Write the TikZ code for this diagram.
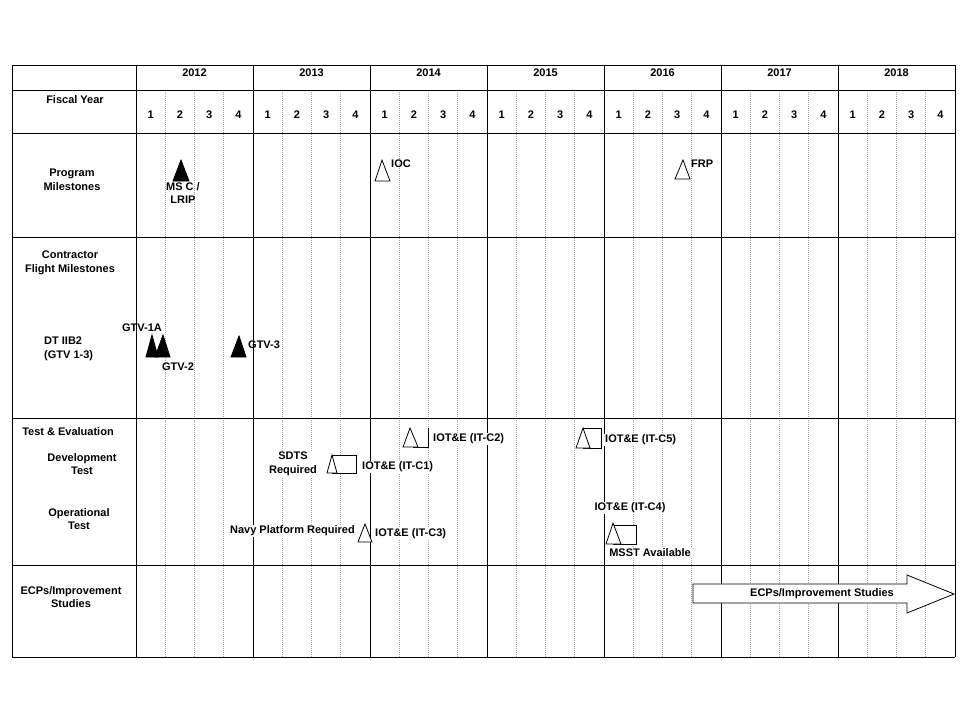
\documentclass[tikz,border=0pt]{standalone}
\usepackage{fontspec}
\setmainfont{Liberation Sans}
\begin{document}
\begin{tikzpicture}[
    x=1pt, y=-1pt,
    lbl/.style={font=\fontsize{11}{13.5}\selectfont\bfseries, align=center, inner sep=1pt},
    tag/.style={lbl, fill=white},
    rule/.style={line width=0.9pt},
    qline/.style={dash pattern=on 1pt off 1pt, gray!70, line width=0.6pt},
    openms/.style={draw, fill=white, line width=0.8pt},
    fullms/.style={draw, fill=black, line width=0.8pt},
    window/.style={draw, fill=white, line width=0.8pt}
]
    \useasboundingbox[fill=white] (0,0) rectangle (960,720);

    % Quarter lines
    \foreach \i in {0,...,6}
        \foreach \q in {1,2,3}
            \draw[qline] ({136+117*\i+29.25*\q},90) -- ({136+117*\i+29.25*\q},657);

    % Years and quarters
    \foreach \yr [count=\i from 0] in {2012,...,2018} {
        \draw[rule] ({136+117*\i},65) -- ({136+117*\i},657);
        \node[lbl] (y\yr) at ({194.5+117*\i},73) {\yr};
        \foreach \q in {1,...,4}
            \node[lbl] (q\yr-\q) at ({136+117*\i+29.25*\q-14.6},115) {\q};
    }

    % Rows
    \foreach \h in {65,90,133,237,418,565,657}
        \draw[rule] (12,\h) -- (955,\h);
    \draw[rule] (12,65) -- (12,657);
    \draw[rule] (955,65) -- (955,657);

    % Row labels
    \node[lbl] (fy) at (75,100) {Fiscal Year};
    \node[lbl] (prog) at (72,180) {Program\\Milestones};
    \node[lbl] (contr) at (70,263) {Contractor\\Flight Milestones};
    \node[lbl, align=left, anchor=west] (dt) at (43,349) {DT IIB2\\(GTV 1-3)};
    \node[lbl] (te) at (68,432) {Test \& Evaluation};
    \node[lbl] (devt) at (82,464) {Development\\Test};
    \node[lbl] (opt) at (79,519) {Operational\\Test};
    \node[lbl] (ecp) at (71,597) {ECPs/Improvement\\Studies};

    % Program milestones
    \draw[fullms] (173,181) -- (181,160) -- (189,181) -- cycle;
    \node[lbl] (msc) at (183,193) {MS C /\\LRIP};
    \draw[openms] (375,181) -- (382,160) -- (390,181) -- cycle;
    \node[lbl, anchor=west] (ioc) at (390,164) {IOC};
    \draw[openms] (675,179) -- (683,160) -- (690,179) -- cycle;
    \node[lbl, anchor=west] (frp) at (690,164) {FRP};

    % Flight milestones
    \draw[fullms] (146,357) -- (152,335) -- (158,357) -- cycle;
    \draw[fullms] (155,357) -- (163,335) -- (170,357) -- cycle;
    \node[lbl] (gtv1a) at (142,328) {GTV-1A};
    \node[lbl] (gtv2) at (178,367) {GTV-2};
    \draw[fullms] (231,357) -- (239,336) -- (246,357) -- cycle;
    \node[lbl, anchor=west] (gtv3) at (247,345) {GTV-3};

    % Test events
    \node[tag, anchor=west] (c2) at (432,439) {IOT\&E (IT-C2)};
    \node[tag] (sdts) at (293,464) {SDTS\\Required};
    \node[tag, anchor=west] (c1) at (361,467) {IOT\&E (IT-C1)};
    \node[tag, anchor=east] (navy) at (356,531) {Navy Platform Required};
    \node[tag, anchor=west] (c3) at (374,534) {IOT\&E (IT-C3)};
    \node[tag, anchor=west] (c5) at (604,440) {IOT\&E (IT-C5)};
    \node[tag] (c4) at (630,508) {IOT\&E (IT-C4)};
    \node[tag] (msst) at (650,553) {MSST Available};

    \draw[line width=0.8pt] (428,428) -- (428,447) -- (413,447);
    \draw[openms] (403,447) -- (410,428) -- (418,447) -- cycle;
    \draw[window] (332,455) rectangle (356,473);
    \draw[openms] (327,473) -- (332,455) -- (337,473) -- cycle;
    \draw[openms] (358,542) -- (365,524) -- (372,542) -- cycle;
    \draw[window] (583,428) rectangle (601,448);
    \draw[openms] (576,448) -- (583,428) -- (590,448) -- cycle;
    \draw[window] (613,525) rectangle (636,544);
    \draw[openms] (606,544) -- (613,523) -- (621,544) -- cycle;

    % ECP arrow
    \draw[openms] (693,584) -- (907,584) -- (907,575) -- (954,594)
        -- (907,613) -- (907,603) -- (693,603) -- cycle;
    \node[lbl] (ecps) at (822,594) {ECPs/Improvement Studies};
\end{tikzpicture}
\end{document}
